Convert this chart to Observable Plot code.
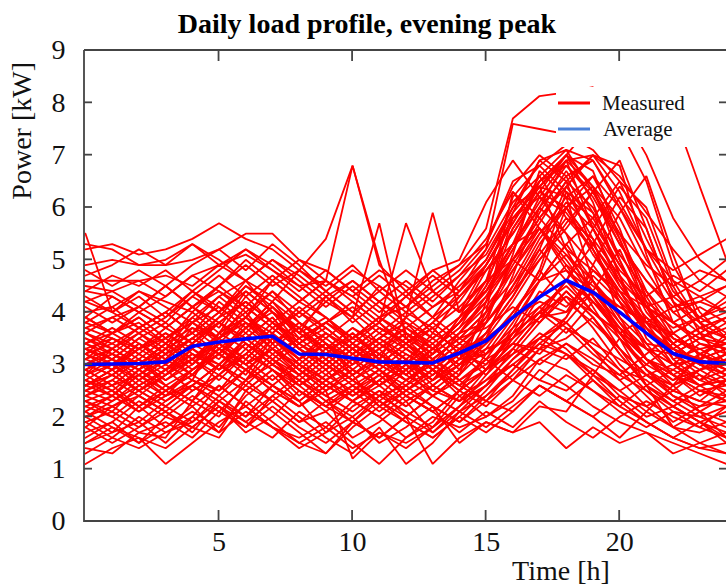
<!DOCTYPE html>
<html><head><meta charset="utf-8">
<script src="https://cdn.jsdelivr.net/npm/d3@7"></script>
<script src="https://cdn.jsdelivr.net/npm/@observablehq/plot@0.6"></script>
<style>
body{margin:0;background:#fff;}
#chart svg text{font-family:"Liberation Serif","Times New Roman",serif;}
</style></head><body><div id="chart"></div>
<script>
const hours = [0,1,2,3,4,5,6,7,8,9,10,11,12,13,14,15,16,17,18,19,20,21,22,23,24];
const xTicks = [5,10,15,20];
const yTicks = [0,1,2,3,4,5,6,7,8,9];
const titleText = "Daily load profile, evening peak";
const xLabel = "Time [h]";
const yLabel = "Power [kW]";
const legendLabels = ["Measured","Average"];

const average = [3.0,3.01,3.02,3.05,3.35,3.43,3.49,3.54,3.2,3.19,3.12,3.05,3.04,3.03,3.22,3.45,3.9,4.29,4.61,4.38,4.0,3.6,3.21,3.05,3.02];

const S1 = [3.6,3.9,4.1,3.8,4.3,4.0,4.5,4.2,4.8,5.4,6.8,4.9,4.4,3.9,4.6,5.2,6.1,6.6,5.8,5.4,4.7,4.1,3.8,3.5,3.4];
const S2 = [2.9,3.2,3.0,3.4,3.7,3.5,3.9,4.6,4.2,4.6,6.8,5.0,3.6,3.3,3.8,4.4,5.3,6.0,6.9,5.6,4.5,3.9,3.3,3.0,2.8];
const S3 = [3.3,3.1,3.5,3.2,3.8,4.1,3.7,4.0,3.6,4.3,3.9,5.7,3.5,3.2,3.9,4.8,5.5,6.3,6.0,5.1,4.4,3.6,3.2,3.1,2.9];
const S4 = [4.5,4.4,4.6,4.3,4.7,4.9,5.1,4.8,4.5,4.6,4.2,3.8,5.7,4.4,4.0,4.9,5.7,6.5,6.8,6.2,5.3,4.6,4.1,4.3,4.0];
const S5 = [2.6,2.8,2.5,2.9,3.1,3.4,3.0,3.3,2.8,3.2,3.6,3.1,3.9,5.9,4.0,4.4,5.0,5.8,6.4,5.7,4.9,4.1,3.4,3.0,2.7];
const S6 = [3.2,3.0,3.3,3.5,3.1,3.6,3.9,3.4,3.7,3.3,3.5,3.9,4.1,4.6,4.9,5.6,7.7,8.13,8.2,8.3,7.5,6.5,4.9,4.0,3.5];
const S7 = [2.8,3.1,2.9,3.3,3.6,3.2,3.8,3.5,3.1,3.6,3.3,3.7,3.4,3.8,4.4,5.2,7.6,7.5,7.4,7.1,6.5,5.4,4.4,3.9,3.6];
const S8 = [4.2,4.0,4.4,4.1,3.8,4.3,4.6,4.0,3.7,4.2,3.9,4.5,4.1,3.6,4.3,4.8,5.5,6.3,7.0,7.6,7.9,7.7,7.84,6.4,5.0];
const S9 = [5.5,4.0,4.3,3.9,4.4,4.1,3.7,4.2,3.8,3.5,3.9,3.4,3.7,3.3,3.8,4.3,5.0,5.6,5.1,4.6,4.0,3.6,3.3,3.6,3.9];
const S10 = [3.9,3.6,3.3,3.7,3.4,3.8,4.2,3.8,3.4,3.8,4.2,3.8,4.3,4.8,5.0,6.1,6.9,6.2,5.5,4.9,4.2,3.7,3.2,3.5,3.3];

const T1 = [5.3,5.2,4.9,5.0,5.3,5.0,4.6,5.0,4.6,4.2,4.6,4.2,3.9,4.3,4.7,5.1,6.0,6.9,7.1,6.3,5.3,4.6,4.0,4.2,4.5];
const T2 = [5.2,5.3,5.1,5.2,5.4,5.7,5.4,5.2,4.8,4.5,4.9,4.4,4.0,4.4,4.8,5.4,6.3,5.8,5.2,4.8,4.4,4.1,4.3,4.6,5.0];
const T3 = [4.9,5.0,4.9,4.9,5.0,5.2,5.5,5.5,5.0,4.6,4.3,4.7,4.3,3.9,4.3,4.9,5.7,6.6,7.1,6.9,6.1,5.2,4.8,5.1,5.4];
const T4 = [4.6,4.6,4.6,4.7,4.5,4.9,4.6,5.0,4.7,4.3,4.6,4.2,4.6,4.2,4.7,5.3,6.5,6.8,7.2,7.7,7.9,7.0,5.8,5.0,4.6];
const T5 = [4.2,4.4,4.1,4.5,4.9,5.2,4.8,5.3,4.9,4.4,4.0,4.4,4.8,4.4,4.0,4.6,5.0,4.6,4.8,4.4,4.1,3.8,4.1,4.2,4.0];
const T6 = [4.0,4.1,4.4,4.2,4.0,4.5,5.0,4.6,4.2,4.6,4.3,3.9,4.3,4.7,4.3,4.8,5.3,5.6,4.9,4.5,4.1,3.8,3.6,3.9,4.2];
const T7 = [4.4,4.3,4.0,4.3,4.7,4.4,4.1,4.6,5.0,4.8,4.4,4.8,4.5,4.1,4.4,5.0,6.0,6.4,6.9,7.0,6.6,5.9,5.2,4.6,4.3];

const H1 = [3.2,3.4,3.1,3.5,3.8,3.5,4.1,3.7,3.3,3.0,3.4,3.1,2.8,3.2,3.6,3.8,4.5,5.2,4.6,4.0,3.6,3.3,3.0,3.1,3.3];
const H2 = [3.5,3.2,3.6,3.3,3.9,4.3,3.9,4.4,3.8,3.4,3.1,3.5,3.2,2.9,3.3,3.5,3.9,4.2,4.0,4.8,4.3,3.7,3.3,3.1,3.6];
const H3 = [3.1,3.3,3.6,3.2,3.5,3.2,3.7,4.2,3.6,3.9,3.4,3.0,3.4,3.7,3.2,3.6,4.3,5.2,6.4,7.0,6.8,5.1,3.8,3.4,3.2];
const H4 = [3.7,3.5,3.2,3.6,3.3,3.8,3.5,3.9,3.3,3.6,3.2,3.5,3.8,3.3,3.7,4.5,5.9,6.9,6.5,5.2,4.3,3.6,3.2,3.5,3.7];
const H5 = [3.4,3.6,3.8,3.4,4.0,3.6,4.3,3.8,3.5,3.8,3.5,3.2,3.6,3.1,3.5,3.7,4.1,3.8,4.3,4.0,3.6,3.9,3.5,3.3,3.4];
const H6 = [3.0,3.2,2.9,3.3,3.6,4.0,3.6,4.1,3.7,3.3,3.7,3.4,3.1,3.5,3.9,4.4,5.3,6.5,7.0,6.7,5.4,4.1,3.5,3.2,3.0];
const H7 = [3.8,3.6,3.9,3.5,3.8,3.4,3.9,3.6,4.0,3.7,3.3,3.7,3.4,3.8,3.4,3.8,4.4,5.0,5.6,6.3,6.9,5.6,4.2,3.7,3.5];
const H8 = [3.3,3.5,3.3,3.7,4.1,3.7,4.4,4.0,3.4,3.1,3.5,3.8,3.3,3.0,3.4,3.9,4.8,5.6,5.0,4.3,3.7,3.3,3.0,3.4,3.3];
const H9 = [3.6,3.4,3.7,4.0,3.6,4.2,3.8,3.4,3.8,3.4,3.0,3.3,3.7,3.4,3.8,4.6,6.2,6.8,6.3,5.9,5.1,4.4,3.8,3.5,3.8];
const H10 = [3.4,3.7,3.4,3.1,3.5,3.9,4.5,4.1,3.5,3.8,4.1,3.7,3.4,3.8,4.2,4.9,5.8,6.2,6.9,6.4,5.8,4.8,4.0,3.6,3.4];

const M1 = [2.5,2.7,2.4,2.8,3.2,2.9,3.5,3.1,2.6,2.9,2.4,2.7,2.3,2.6,3.0,3.3,4.0,4.6,5.1,4.4,3.7,3.1,2.8,2.5,2.4];
const M2 = [2.7,2.4,2.9,2.6,2.3,3.0,2.7,3.4,2.9,2.5,2.8,2.2,2.6,2.9,2.5,3.2,3.9,4.8,6.3,5.4,3.9,3.1,2.6,2.8,2.6];
const M3 = [2.4,2.6,2.2,2.5,2.8,3.3,3.0,2.6,2.3,2.7,3.1,2.6,2.9,2.4,2.8,3.5,4.7,6.0,5.5,4.3,3.5,2.9,2.5,2.3,2.2];
const M4 = [2.9,2.6,2.8,2.4,2.7,2.5,3.1,3.6,3.2,2.8,2.5,2.9,2.4,2.7,3.3,2.9,3.2,3.5,3.9,4.7,4.2,3.4,2.8,2.6,2.7];
const M5 = [2.6,2.9,3.1,2.7,3.0,3.5,3.8,3.3,2.9,2.6,2.3,2.6,3.0,2.5,2.9,3.8,5.1,6.7,6.2,4.6,3.8,3.1,2.7,2.9,3.0];
const M6 = [2.3,2.1,2.6,2.9,2.5,2.8,3.3,2.9,2.5,2.2,2.6,2.3,2.7,3.0,2.6,2.9,3.4,3.3,3.5,3.9,3.3,2.8,2.4,2.2,2.5];
const M7 = [2.8,3.0,2.6,2.9,3.3,3.0,2.7,3.2,3.5,3.1,2.7,2.4,2.9,3.2,3.6,4.2,5.6,6.4,7.0,6.1,4.7,3.5,3.0,2.7,2.9];
const M8 = [2.5,2.3,2.7,2.4,2.9,3.2,2.8,3.5,3.0,2.6,2.9,3.3,2.8,2.5,2.3,2.6,3.0,3.4,3.8,4.4,5.2,4.1,3.2,2.8,2.4];
const M9 = [3.0,2.8,2.5,2.8,3.1,2.7,3.2,2.9,2.4,2.8,3.2,2.9,2.5,2.8,3.2,3.0,3.6,4.0,3.8,3.3,2.9,2.7,2.3,2.6,2.8];
const M10 = [2.6,2.4,2.8,3.1,2.8,3.4,3.1,2.7,3.1,3.4,2.9,2.6,3.0,3.4,2.9,3.4,4.0,4.7,6.0,6.6,5.6,4.2,3.1,2.7,2.5];

const C1 = [3.0,2.8,3.2,2.9,3.4,3.1,3.7,3.3,2.9,3.3,2.9,2.6,3.0,2.7,3.1,3.2,3.7,4.1,4.5,4.0,3.5,3.0,2.7,3.1,2.9];
const C2 = [2.7,3.0,2.7,3.0,2.7,3.6,3.3,3.8,3.4,3.0,2.7,3.0,3.4,2.9,2.6,3.1,3.4,3.2,3.7,3.4,3.1,2.8,3.0,2.7,3.1];
const C3 = [3.3,3.1,2.8,3.2,3.5,3.8,3.4,3.0,3.4,3.7,3.3,2.9,2.6,3.1,3.5,3.2,3.6,4.4,4.1,4.6,3.9,3.4,3.3,3.0,2.8];
const C4 = [2.8,3.3,3.0,2.7,3.1,3.5,3.9,3.5,3.0,2.7,3.1,3.5,3.1,2.7,3.0,3.4,3.9,4.8,4.2,3.8,3.3,2.8,2.6,3.2,3.0];
const C5 = [3.1,2.9,3.3,3.6,3.2,3.0,3.5,3.9,3.3,2.9,3.3,3.0,2.7,3.1,2.8,3.3,3.5,3.9,4.0,4.4,3.8,3.3,3.2,2.9,3.2];
const C6 = [2.4,2.7,3.1,2.8,3.3,2.9,3.2,3.6,3.1,3.4,2.8,3.2,2.8,3.3,3.0,3.2,3.6,4.0,3.6,4.2,3.7,3.1,2.9,2.6,2.7];
const C7 = [3.5,3.3,3.0,3.4,3.0,3.6,4.0,3.4,3.8,3.4,3.0,3.4,3.1,2.8,3.2,3.9,5.0,5.9,6.7,5.9,4.7,3.6,3.3,3.0,3.1];
const C8 = [2.9,3.1,2.7,3.1,3.7,3.3,3.0,3.5,3.1,2.7,3.0,3.4,3.0,3.6,3.3,3.8,4.4,5.3,6.0,6.4,5.0,3.8,3.1,3.3,3.0];
const C9 = [3.2,2.9,3.4,3.0,3.4,3.8,3.5,3.1,2.8,3.2,3.6,3.1,3.5,3.0,3.4,3.1,2.7,3.1,3.4,3.0,2.8,3.2,3.6,3.2,3.5];
const C10 = [2.6,2.8,3.1,2.6,2.9,3.2,2.9,3.3,3.7,3.2,2.8,3.1,2.7,3.0,3.6,4.3,5.2,6.2,5.9,5.2,4.2,3.3,2.8,2.5,2.6];

const L1 = [1.1,1.4,1.6,1.1,1.5,1.9,2.2,1.8,1.6,1.9,1.5,1.1,1.6,2.0,1.8,2.0,2.3,2.9,2.6,2.2,1.9,1.7,1.5,1.3,1.1];
const L2 = [1.4,1.3,1.7,1.9,1.6,2.1,1.8,2.4,2.0,1.6,1.3,1.8,1.1,1.5,2.1,2.4,2.9,3.4,3.2,2.7,2.2,1.9,1.6,1.4,1.5];
const L3 = [1.7,1.9,1.5,1.8,2.2,1.7,2.5,2.1,1.7,1.3,1.9,1.6,2.0,1.1,1.6,1.9,1.7,2.2,2.1,2.8,3.5,2.6,1.8,1.5,1.3];
const L4 = [1.9,1.6,2.0,1.7,1.9,2.4,2.0,2.6,2.2,2.5,1.2,1.7,1.5,1.8,2.4,2.0,2.4,3.1,2.9,2.5,2.1,1.8,2.1,1.8,1.6];
const L5 = [2.1,1.8,1.5,2.0,1.8,1.6,2.3,1.9,1.5,1.3,1.8,2.2,1.9,1.6,2.0,2.5,3.1,3.5,3.8,3.3,2.7,2.2,1.8,1.7,1.9];
const L6 = [1.5,1.7,1.9,1.5,2.0,2.6,2.2,1.8,1.4,1.7,2.0,1.5,1.8,2.2,1.5,1.9,1.7,1.9,1.4,1.8,1.5,1.7,1.3,1.5,1.7];
const L7 = [2.2,2.0,1.7,1.6,2.3,2.0,2.7,2.3,1.9,2.1,1.6,1.9,2.3,1.7,2.2,2.6,3.0,2.7,2.5,2.9,2.4,2.0,2.2,1.9,2.1];
const L8 = [1.8,2.2,2.4,2.1,1.7,2.3,1.9,1.6,2.1,1.8,2.3,2.0,1.6,1.9,2.5,2.9,3.6,4.0,4.3,3.7,3.0,2.5,2.1,2.0,1.8];
const L9 = [2.3,2.5,2.1,2.4,2.6,2.2,1.7,2.0,2.5,2.2,1.9,2.4,2.6,2.2,1.9,2.4,2.8,3.3,3.1,3.5,2.9,2.4,1.9,2.2,2.3];
const L10 = [2.0,1.7,2.2,1.8,2.1,1.8,2.4,2.8,2.3,1.7,2.2,2.5,2.0,2.4,2.7,2.3,2.1,2.6,2.3,2.0,1.6,2.1,2.6,2.1,1.6];

const D1 = [3.4,3.1,3.5,3.8,3.4,3.9,4.2,3.8,3.3,3.0,2.6,2.9,2.5,2.9,2.6,2.3,2.7,2.4,2.8,2.5,2.2,2.6,2.9,3.2,3.0];
const D2 = [2.6,2.9,2.5,2.2,2.6,3.0,3.4,3.0,2.7,2.4,2.7,2.3,2.0,2.4,2.1,1.8,2.2,2.6,2.3,2.0,2.4,2.2,2.5,2.3,2.7];
const D3 = [3.9,3.6,4.0,3.7,4.1,4.5,4.1,3.7,4.0,3.6,3.2,3.6,3.3,2.9,2.5,2.9,3.3,3.0,3.4,3.1,2.7,3.0,3.4,3.7,3.9];
const D4 = [2.0,2.3,2.6,2.3,2.7,2.4,2.9,2.5,2.2,2.6,2.3,2.0,2.4,2.1,1.7,2.1,1.8,2.3,1.9,1.6,2.0,2.3,2.0,1.8,2.2];
const D5 = [3.0,3.3,3.0,3.4,3.0,3.4,3.0,3.3,2.9,2.5,2.9,2.6,2.2,2.6,2.3,2.7,3.0,2.7,3.2,2.9,2.5,2.8,2.5,2.9,3.1];

const E1 = [2.2,2.4,2.8,2.5,2.9,3.3,2.9,2.6,3.0,2.7,2.3,2.7,3.1,2.6,3.0,3.6,4.5,5.4,6.1,5.6,4.6,3.7,3.0,2.6,2.3];
const E2 = [3.8,4.1,3.7,4.0,4.4,4.0,4.6,4.3,3.9,4.3,3.8,4.2,3.8,3.5,3.9,4.4,5.2,6.0,6.6,6.9,6.0,5.0,4.2,3.8,4.0];
const E3 = [1.6,1.9,2.3,2.0,2.4,2.1,2.6,2.3,2.7,2.3,2.0,2.4,2.1,1.8,2.2,2.8,3.5,4.3,4.9,4.1,3.3,2.6,2.2,1.9,1.7];
const E4 = [2.9,2.6,3.0,3.3,2.9,3.3,3.7,4.1,3.6,3.2,3.6,3.2,2.9,3.3,3.0,3.5,4.2,5.0,5.7,6.3,5.5,4.4,3.6,3.2,2.9];
const E5 = [4.4,4.7,4.5,4.8,4.4,4.8,5.2,4.9,4.5,4.1,4.5,4.1,3.7,4.1,4.5,5.0,5.9,6.5,7.0,6.4,5.5,4.9,4.5,4.8,4.6];
const E6 = [2.0,2.2,1.9,2.3,2.6,3.0,2.6,3.1,2.7,2.3,2.6,2.2,2.5,2.9,2.4,2.7,3.2,3.8,4.4,3.9,3.2,2.6,2.3,2.0,2.2];
const E7 = [3.6,3.3,3.7,3.4,3.1,3.5,3.1,3.6,4.1,3.7,3.3,3.0,3.4,3.0,2.7,3.1,3.8,4.6,5.3,5.8,6.5,6.0,4.6,3.8,3.5];
const E8 = [2.4,2.2,2.5,2.2,2.6,2.3,2.7,3.0,2.6,3.0,3.4,3.0,2.7,3.1,2.7,3.0,3.5,4.1,3.7,3.2,2.8,2.5,2.2,2.5,2.3];
const E9 = [4.8,4.5,4.8,4.5,4.1,4.5,4.9,4.5,4.8,4.4,4.8,4.5,4.1,4.5,4.9,5.3,6.4,7.0,6.6,5.6,4.8,4.3,4.7,4.4,4.8];
const E10 = [1.3,1.6,1.4,1.7,2.0,1.7,2.1,1.8,1.5,1.8,1.4,1.7,1.4,1.8,2.2,2.6,3.1,3.6,3.3,2.8,2.3,1.9,1.6,1.4,1.3];
const E11 = [3.1,3.5,3.2,2.9,3.2,2.9,3.4,3.1,3.5,3.8,3.4,3.8,3.4,3.1,3.5,4.0,4.9,5.7,6.5,6.0,5.0,4.0,3.4,3.0,3.2];
const E12 = [2.7,2.5,2.2,2.6,2.3,2.8,2.5,2.9,2.6,2.2,2.5,2.8,2.4,2.1,2.5,2.9,3.6,4.0,4.6,5.3,6.2,5.6,4.2,3.1,2.8];
const E13 = [4.1,3.8,4.1,4.5,4.1,4.4,4.0,4.4,4.0,4.4,4.0,3.6,4.0,3.7,4.1,4.6,5.6,6.3,6.0,5.3,4.6,4.1,3.7,3.9,4.3];
const E14 = [1.8,1.5,1.8,2.1,1.8,2.2,1.9,2.3,1.9,2.3,1.9,1.6,2.0,1.7,2.1,2.6,3.3,3.9,4.4,3.9,3.2,2.6,2.2,1.9,1.6];
const E15 = [3.3,3.0,3.4,3.1,3.5,3.2,3.6,3.2,2.8,3.2,2.8,3.2,2.9,3.3,3.8,4.5,5.3,6.1,6.8,6.3,5.4,4.3,3.5,3.2,3.4];
const E16 = [2.5,2.8,2.5,2.8,3.1,2.8,3.2,3.7,3.3,2.9,3.3,2.9,3.3,3.7,3.2,2.8,3.3,3.9,4.6,5.6,6.4,5.8,4.5,3.6,3.0];
const E17 = [4.3,4.0,3.7,4.0,3.6,4.0,4.4,4.0,3.6,3.3,3.7,3.3,3.6,3.2,3.6,4.1,4.8,5.5,6.2,5.8,4.9,4.2,3.8,4.1,3.8];
const E18 = [2.1,2.4,2.1,2.5,2.2,2.6,2.2,2.6,2.3,2.7,2.4,2.8,2.4,2.1,2.5,2.2,2.7,3.3,3.9,4.9,5.9,6.6,5.1,3.8,3.2];
const E19 = [3.7,3.9,3.6,3.9,4.3,4.7,4.3,4.7,4.3,3.9,3.5,3.9,3.5,3.9,3.5,4.0,4.6,5.5,6.0,5.3,4.5,3.8,3.4,3.7,3.9];
const E20 = [2.8,2.5,2.9,2.5,2.8,2.5,2.9,2.5,2.2,2.6,2.3,2.7,3.1,2.7,3.1,4.0,6.3,5.6,4.8,4.2,3.6,3.1,2.8,2.4,2.7];
const E21 = [1.5,1.8,1.6,1.4,1.8,2.2,1.8,2.2,1.8,1.5,1.9,2.3,1.9,1.6,2.0,1.7,2.1,2.6,2.3,2.7,2.3,1.9,1.6,1.9,1.5];
const E22 = [4.7,4.9,5.2,4.9,5.3,4.9,5.2,4.8,4.4,4.8,4.4,4.0,4.4,4.8,4.4,4.9,5.8,6.4,6.2,6.6,6.0,5.2,4.6,4.3,4.5];
const E23 = [3.4,3.2,2.9,3.2,2.8,3.2,2.9,3.3,3.0,3.4,3.1,2.8,3.2,2.9,3.3,2.9,3.4,4.0,4.6,4.2,3.6,3.1,2.8,3.1,3.3];
const E24 = [2.3,2.0,2.4,2.1,2.5,2.8,2.5,2.9,2.5,2.1,2.5,2.1,2.5,2.2,1.9,2.3,2.9,3.5,3.2,2.8,2.5,2.1,1.8,2.1,2.4];
const E25 = [3.9,4.3,4.0,3.7,4.1,3.8,4.2,3.8,4.2,3.9,3.5,3.9,3.6,3.3,3.7,4.2,5.0,5.8,6.5,7.0,6.3,5.2,4.3,3.9,4.1];
const E26 = [2.6,2.9,3.3,3.0,3.4,3.8,3.4,3.0,2.7,3.1,2.7,3.1,2.7,2.4,2.8,4.2,5.8,6.4,5.2,4.3,3.6,2.9,2.6,2.9,2.6];
const E27 = [1.9,2.1,1.8,2.2,1.9,2.3,2.0,2.4,2.8,2.4,2.1,2.5,2.2,2.6,2.3,2.9,3.7,4.6,5.3,4.6,3.6,2.9,2.4,2.1,1.9];
const E28 = [3.2,3.6,3.9,3.5,3.9,3.5,3.9,3.5,3.1,3.5,3.1,3.5,3.9,3.5,3.1,3.6,4.3,5.1,5.8,5.2,4.4,3.8,3.4,3.0,3.2];

const measuredSeries = [S1,S2,S3,S4,S5,S6,S7,S8,S9,S10,T1,T2,T3,T4,T5,T6,T7,
  H1,H2,H3,H4,H5,H6,H7,H8,H9,H10,M1,M2,M3,M4,M5,M6,M7,M8,M9,M10,
  C1,C2,C3,C4,C5,C6,C7,C8,C9,C10,L1,L2,L3,L4,L5,L6,L7,L8,L9,L10,D1,D2,D3,D4,D5,
  E1,E2,E3,E4,E5,E6,E7,E8,E9,E10,E11,E12,E13,E14,E15,E16,E17,E18,E19,E20,E21,E22,E23,E24,E25,E26,E27,E28];

const measuredRows = measuredSeries.flatMap((s, i) => s.map((v, h) => ({id: i, hour: hours[h], kw: v})));
const averageRows = average.map((v, h) => ({hour: hours[h], kw: v}));

const FONT = '"Liberation Serif","Times New Roman",serif';

const chart = Plot.plot({
  width: 726, height: 587,
  marginLeft: 85, marginRight: 0, marginTop: 50, marginBottom: 66,
  x: {domain: [0, 24]},
  y: {domain: [0, 9]},
  style: {fontFamily: FONT, fontSize: "28px", color: "#111", background: "#fff"},
  marks: [
    Plot.line(measuredRows, {x: "hour", y: "kw", z: "id", stroke: "#ff0000", strokeWidth: 1.8, strokeLinejoin: "miter"}),
    Plot.line(averageRows, {x: "hour", y: "kw", stroke: "#0000ff", strokeWidth: 3.6, strokeLinejoin: "miter"}),
    Plot.axisX({ticks: xTicks, tickSize: 0, tickPadding: 10, label: null, fontSize: 28}),
    Plot.axisY({ticks: yTicks, tickSize: 0, tickPadding: 20, label: null, fontSize: 28})
  ]
});
document.getElementById("chart").appendChild(chart);

const sx = chart.scale("x"), sy = chart.scale("y");
const svg = d3.select(chart);
const x0 = sx.apply(0), x1 = sx.apply(24), y0 = sy.apply(0), y9 = sy.apply(9);

// legend (white box over lines)
const lg = svg.append("g").attr("text-anchor", "start");
lg.append("rect").attr("x", 556).attr("y", 87).attr("width", 172).attr("height", 60).attr("fill", "#fff");
lg.append("line").attr("x1", 558).attr("x2", 590).attr("y1", 103).attr("y2", 103).attr("stroke", "#ff0000").attr("stroke-width", 3);
lg.append("line").attr("x1", 558).attr("x2", 590).attr("y1", 129).attr("y2", 129).attr("stroke", "#4a7fd6").attr("stroke-width", 3);
lg.append("text").attr("x", 602).attr("y", 110).attr("text-anchor", "start").attr("font-size", 21).attr("fill", "#111").style("font-family", FONT).text(legendLabels[0]);
lg.append("text").attr("x", 603).attr("y", 136).attr("text-anchor", "start").attr("font-size", 21).attr("fill", "#111").style("font-family", FONT).text(legendLabels[1]);

// frame and ticks
const fr = svg.append("g").attr("stroke", "#444").attr("stroke-width", 1.8).attr("fill", "none");
fr.append("path").attr("d", `M${x0 - 1},${y9}V${y0}H${x1 + 2}M${x0 - 1},${y9}H${x1 + 2}M${x1 + 1},${y9}V${y0}`);
xTicks.forEach(t => {
  const X = sx.apply(t);
  fr.append("line").attr("x1", X).attr("x2", X).attr("y1", y0).attr("y2", y0 - 11);
  fr.append("line").attr("x1", X).attr("x2", X).attr("y1", y9).attr("y2", y9 + 11);
});
yTicks.filter(t => t > 0 && t < 9).forEach(t => {
  const Y = sy.apply(t);
  fr.append("line").attr("x1", x0 - 1).attr("x2", x0 + 7).attr("y1", Y).attr("y2", Y);
  fr.append("line").attr("x1", x1 - 7).attr("x2", x1).attr("y1", Y).attr("y2", Y);
});

// title and axis labels
svg.append("text").attr("x", 367).attr("y", 33).attr("text-anchor", "middle")
  .attr("font-size", 28).attr("font-weight", "bold").attr("fill", "#000").style("font-family", FONT).text(titleText);
svg.append("text").attr("x", 561).attr("y", 580).attr("text-anchor", "middle")
  .attr("font-size", 28).attr("fill", "#111").style("font-family", FONT).text(xLabel);
svg.append("text").attr("transform", "translate(31,62) rotate(-90)").attr("text-anchor", "end")
  .attr("font-size", 28).attr("fill", "#111").style("font-family", FONT).text(yLabel);
</script></body></html>
